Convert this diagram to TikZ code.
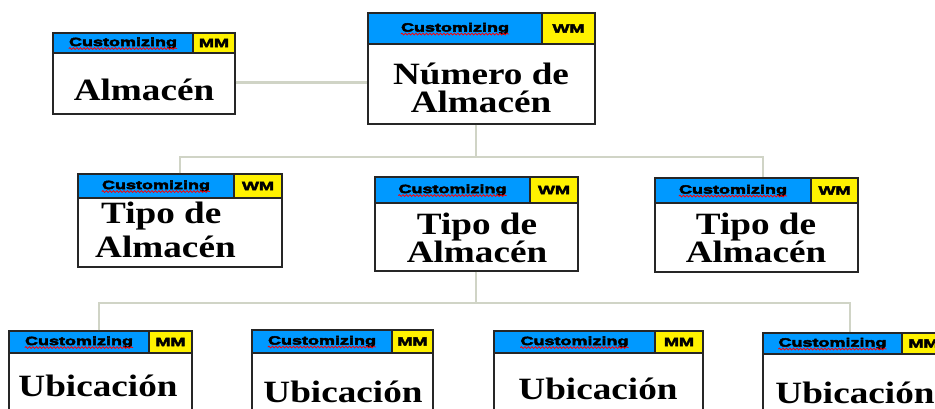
\documentclass[tikz,border=0pt]{standalone}
\usepackage{fontspec}
\setmainfont{Liberation Serif}[FakeStretch=1.2]
\newfontfamily\custfont{Liberation Sans}[FakeStretch=1.5,BoldFeatures={FakeBold=4}]
\usetikzlibrary{fit}
\usetikzlibrary{decorations.pathmorphing}
\definecolor{custblue}{RGB}{0,153,255}
\definecolor{linkgray}{RGB}{208,212,198}
\lineskiplimit=-50pt

\begin{document}
\begin{tikzpicture}
[x=1pt,y=-1pt,%
  card/.style={draw=black!85,line width=1.2pt,fill=white,inner sep=0pt},%
  custbox/.style={draw=black!85,line width=1.2pt,fill=custblue,inner sep=0pt},%
  tagbox/.style={draw=black!85,line width=1.2pt,fill=yellow,inner sep=0pt},%
  custtxt/.style={inner sep=0pt,font=\custfont\bfseries\fontsize{12}{12}\selectfont},%
  wavy/.style={red,line width=0.8pt,decorate,%
    decoration={snake,amplitude=0.9pt,segment length=3.5pt}},%
  link/.style={draw=linkgray,line width=2.6pt},%
  title/.style={inner sep=0pt,align=center,%
    font=\bfseries\fontsize{31}{27}\selectfont}]
\clip (0,0) rectangle (935,408);
\foreach \n/\xa/\ya/\xb/\yb/\hb/\ys/\t in
  {alm/53/33/235/114/53/193/MM,
   num/368/13/595/124/44/542/WM,
   tip1/78/174/282/267/198/234/WM,
   tip2/375/177/578/271/203/530/WM,
   tip3/655/178/858/272/203/811/WM,
   ub1/9/331/192/440/353/149/MM,
   ub2/252/330/433/440/353/392/MM,
   ub3/494/331/703/440/353/655/MM,
   ub4/763/333/945/440/354/902/MM}
{
  \node[card,fit={(\xa,\ya) (\xb,\yb)}] (\n) {};
  \node[custbox,fit={(\xa,\ya) (\ys,\hb)}] (\n c) {};
  \node[tagbox,fit={(\ys,\ya) (\xb,\hb)}] (\n t) {};
  \node[custtxt] (\n m) at (\n t.center) {\t};
  \node[custtxt] (\n w) at (\n c.center) {Customizing};
  \draw[wavy] ([yshift=-2.5pt]\n w.base west) -- ([yshift=-2.5pt]\n w.base east);
}
\node[title,anchor=base] (almx) at (144,100) {Almacén};
\node[title] (numx) at (481,88) {Número de\\[1pt]Almacén};
\node[title,align=left,anchor=west] (tip1x) at (95,230) {\hspace*{6pt}Tipo de\\[7pt]Almacén};
\node[title] (tip2x) at (477,238) {Tipo de\\[1pt]Almacén};
\node[title] (tip3x) at (756,238) {Tipo de\\[1pt]Almacén};
\node[title,anchor=base] (ub1x) at (98,396) {Ubicación};
\node[title,anchor=base] (ub2x) at (343,402) {Ubicación};
\node[title,anchor=base] (ub3x) at (598,399) {Ubicación};
\node[title,anchor=base] (ub4x) at (855,403) {Ubicación};
% connectors
\coordinate (j1) at (476,157);
\coordinate (j2) at (476,303);
\draw[link] ([yshift=-9pt]alm.east) -- ([yshift=-9pt]alm.east -| num.west);
\draw[link] (num.south -| j1) -- (j1);
\draw[link] (tip1.north) |- (j1) -| ([xshift=6.5pt]tip3.north);
\draw[link] (tip2.south -| j2) -- (j2);
\draw[link] ([xshift=-1.5pt]ub1.north) |- (j2) -| ([xshift=-4pt]ub4.north);
\end{tikzpicture}
\end{document}
